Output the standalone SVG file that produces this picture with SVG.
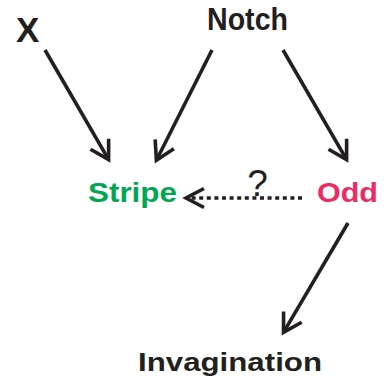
<svg xmlns="http://www.w3.org/2000/svg" width="390" height="387" viewBox="0 0 390 387">
<style>
.lbl{font-family:"Liberation Sans",Arial,sans-serif;font-weight:bold;fill:#231F20}
.edge{fill:none;stroke:#231F20;stroke-width:3.6;stroke-linecap:butt}
.dotted{stroke-width:3.4;stroke-dasharray:4 3.6}
.head{fill:none;stroke:#231F20;stroke-width:3.6;stroke-linejoin:miter;stroke-dasharray:none}
</style>
<defs>
<marker id="arr" markerUnits="userSpaceOnUse" viewBox="-22 -13 26 26" refX="0" refY="0" markerWidth="26" markerHeight="26" orient="auto" overflow="visible">
<path class="head" d="M-18,-10.5 L0,0 L-18,10.5"/>
</marker>
</defs>
<rect width="390" height="387" fill="#ffffff"/>
<g id="connectors">
<path class="edge" d="M45,50 L108.6,159.6" marker-end="url(#arr)"/>
<path class="edge" d="M212,50 L156.4,160.2" marker-end="url(#arr)"/>
<path class="edge" d="M283,50 L346.6,159.6" marker-end="url(#arr)"/>
<path class="edge" d="M348,223 L283.5,332.4" marker-end="url(#arr)"/>
<path class="edge dotted" d="M302,198 L188,198"/>
<path class="head" d="M204,188.5 L186,198 L204,207.5"/>
<text x="257.5" y="196" text-anchor="middle" style="font-family:'Liberation Sans',Arial,sans-serif;font-size:37px;fill:#231F20">?</text>
</g>
<g id="node-x"><text class="lbl" x="16" y="42" style="font-size:35px">X</text></g>
<g id="node-notch"><text class="lbl" x="207" y="30" style="font-size:31px" textLength="81" lengthAdjust="spacingAndGlyphs">Notch</text></g>
<g id="node-stripe"><text class="lbl" x="88" y="202" style="font-size:28px;fill:#00A651" textLength="89" lengthAdjust="spacingAndGlyphs">Stripe</text></g>
<g id="node-odd"><text class="lbl" x="317" y="202" style="font-size:28px;fill:#EC2A63" textLength="61" lengthAdjust="spacingAndGlyphs">Odd</text></g>
<g id="node-invagination"><text class="lbl" x="138" y="371" style="font-size:26px" textLength="184" lengthAdjust="spacingAndGlyphs">Invagination</text></g>
</svg>
